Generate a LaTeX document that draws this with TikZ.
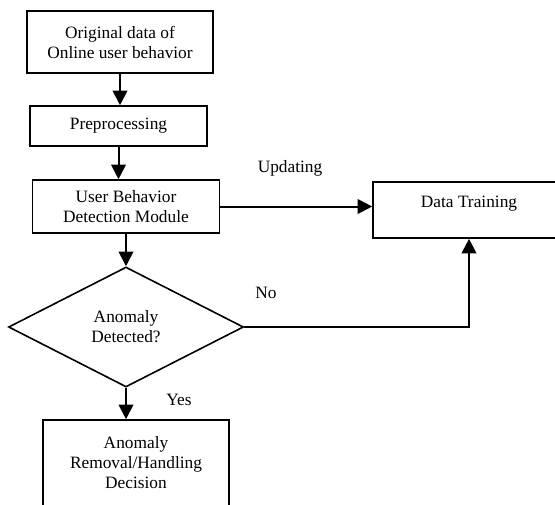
\documentclass[tikz,border=0pt]{standalone}
\usepackage{fontspec}
\setmainfont{Liberation Serif}
\usetikzlibrary{shapes.geometric,arrows.meta}

\begin{document}
\begin{tikzpicture}[x=0.75pt,y=-0.75pt,
    font=\fontsize{13}{15}\selectfont,
    blk/.style={draw,line width=1.2pt,align=center,inner sep=0pt},
    dec/.style={draw,diamond,line width=1.2pt,align=center,inner sep=0pt,
        minimum width=176.25pt,minimum height=90pt},
    flow/.style={line width=1.5pt,arrows={-{Triangle[length=11pt,width=11pt]}}}]
\clip (0,0) rectangle (555,504);

\node[blk,minimum width=139.5pt,minimum height=46.5pt] (orig) at (120,42)
    {Original data of\\Online user behavior};
\node[blk,minimum width=132.75pt,minimum height=30pt] (prep) at (118.5,126)
    {Preprocessing};
\node[blk,minimum width=140.25pt,minimum height=39.75pt] (detect) at (126,206.5)
    {User Behavior\\Detection Module};
\node[dec] (decide) at (126,327) {Anomaly\\Detected?};
\node[blk,minimum width=139.5pt,minimum height=64.5pt] (handle) at (136,463)
    {Anomaly\\Removal/Handling\\Decision};
\node[blk,minimum width=144pt,minimum height=42pt,text depth=12pt] (train) at (469,210)
    {Data Training};

% labels
\node (upd) at (290,168) {Updating};
\node (no) at (266,293) {No};
\node (yes) at (179,400) {Yes};

\draw[flow] (orig.south) -- (orig.south |- prep.north);
\draw[flow] (prep.south) -- (prep.south |- detect.north);
\draw[flow] (detect.south) -- (decide.north);
\draw[flow] (decide.south) -- (decide.south |- handle.north);
\draw[flow] (detect.east) -- (detect.east -| train.west);
\draw[flow] (decide.east) -| (train.south);
\end{tikzpicture}
\end{document}
